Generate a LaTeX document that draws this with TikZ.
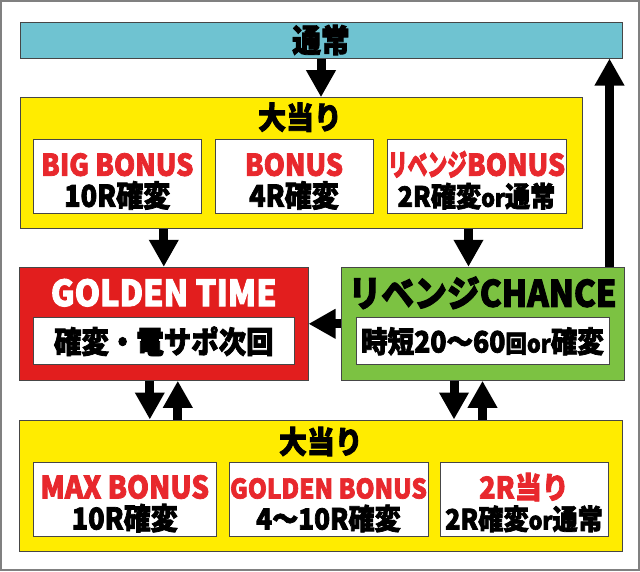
\documentclass[tikz,border=0pt]{standalone}
\usepackage{fontspec}
\setmainfont{Noto Sans CJK JP}[FakeStretch=0.9, BoldFeatures={FakeBold=2.5}]
\newfontfamily\jpnarrow{Noto Sans CJK JP}[FakeStretch=0.66, BoldFeatures={FakeBold=2.5}]
\usetikzlibrary{arrows.meta,calc}
\definecolor{normalcyan}{RGB}{111,195,209}
\definecolor{hityellow}{RGB}{255,236,0}
\definecolor{timered}{RGB}{226,30,30}
\definecolor{chancegreen}{RGB}{124,194,66}
\definecolor{bonusred}{RGB}{232,40,45}
\definecolor{edgegray}{RGB}{70,70,70}
\newcommand*{\JpSize}[1]{\fontsize{#1}{#1}\selectfont\bfseries}
\newcommand*{\Small}[1]{{\fontsize{24}{24}\selectfont #1}}
\newcommand*{\BonusRow}[3]{% #1 = row name, #2 = top y, #3 = list of x/width/red/black
  \foreach \x/\w/\hot/\rate [count=\i] in {#3} {
    \node [bonusbox, minimum width=\w] (#1\i) at (\x,#2+37.25) {};
    \node [hotline, anchor=base] (#1\i r) at ($(#1\i.north)+(0,37)$) {\hot};
    \node [rateline, anchor=base] (#1\i b) at ($(#1\i.north)+(0,68)$) {\rate};
  }%
}
\tikzset{
  box/.style={draw=edgegray, line width=1pt, inner sep=0pt},
  bonusbox/.style={box, fill=white, minimum height=74.5pt},
  hotline/.style={inner sep=0pt, text=bonusred, font=\JpSize{30}},
  rateline/.style={inner sep=0pt, font=\JpSize{30}},
  title/.style={inner sep=0pt, font=\JpSize{31}},
  fat/.style={line width=9pt, -{Triangle[length=27pt,width=28pt]}},
}

\begin{document}
\begin{tikzpicture}[x=1pt,y=-1pt]
    \useasboundingbox (0,0) rectangle (640,571);
    \draw [draw=gray, line width=1.5pt] (1,1) rectangle (639,570);

    % upper part
    \node [box, fill=normalcyan, minimum width=602pt, minimum height=36pt, font=\JpSize{32}]
      (normal) at (321,40) {通常};
    \node [box, fill=hityellow, minimum width=562pt, minimum height=130.3pt]
      (hit1) at (301,162.85) {};
    \node [title] (hit1t) at ($(hit1.north)+(-1,20)$) {大当り};
    \BonusRow{top}{139.3}{
      117.25/167.5pt/BIG BONUS/10R確変,
      294/158pt/BONUS/4R確変,
      476.5/179pt/{\jpnarrow リベンジ}BONUS/{\JpSize{28}2R確変\Small{or}通常}
    }

    % middle part
    \node [box, fill=timered, minimum width=288.4pt, minimum height=113pt]
      (gt) at (163.8,323.8) {};
    \node [title, anchor=base, text=white, font=\JpSize{36}] (gtt) at ($(gt.north)+(0,39.4)$) {GOLDEN TIME};
    \node [box, fill=white, minimum width=261pt, minimum height=47pt, font=\JpSize{30.5}]
      (gti) at (163.8,341.3) {確変・電サポ次回};
    \node [box, fill=chancegreen, minimum width=283pt, minimum height=113pt]
      (rc) at (482.5,323.8) {};
    \node [title, anchor=base, font=\JpSize{36.5}] (rct) at ($(rc.north)+(0,40)$) {リベンジCHANCE};
    \node [box, fill=white, minimum width=253pt, minimum height=47pt, font=\JpSize{29.5}]
      (rci) at (482.5,341.3) {時短20～60\Small{回or}確変};

    % lower part
    \node [box, fill=hityellow, minimum width=602.4pt, minimum height=131pt]
      (hit2) at (320.8,485.5) {};
    \node [title] (hit2t) at ($(hit2.north)+(0,22)$) {大当り};
    \BonusRow{low}{462}{
      124.75/182.5pt/{\JpSize{31}MAX BONUS}/10R確変,
      328.5/199pt/{\JpSize{27}GOLDEN BONUS}/{\JpSize{29}4～10R確変},
      524/168pt/2R当り/{\JpSize{28}2R確変\Small{or}通常}
    }

    % arrows
    \draw [fat] (normal.south) -- (normal.south |- hit1.north);
    \draw [fat] (gt.north |- hit1.south) -- (gt.north);
    \draw [fat] ([xshift=-14pt]rc.north |- hit1.south) -- ([xshift=-14pt]rc.north);
    \draw [fat] (rc.west) -- (gt.east);
    \draw [fat] ([xshift=-15pt]rc.north east) -- ([xshift=-15pt]rc.north east |- normal.south);
    \draw [fat] ([xshift=-14pt]gt.south) -- ([xshift=-14pt]gt.south |- hit2.north);
    \draw [fat] ([xshift=14pt]gt.south |- hit2.north) -- ([xshift=14pt]gt.south);
    \draw [fat] ([xshift=-28.5pt]rc.south) -- ([xshift=-28.5pt]rc.south |- hit2.north);
    \draw [fat] (rc.south |- hit2.north) -- (rc.south);
\end{tikzpicture}
\end{document}
